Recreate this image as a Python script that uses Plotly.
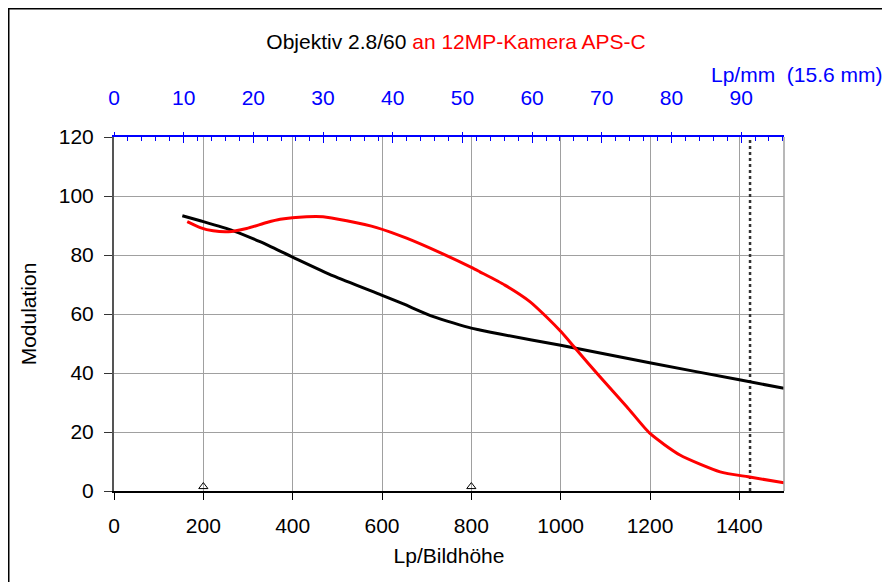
import plotly.graph_objects as go

# ---- data ----
lp_black = [153, 200, 267, 327, 401, 491, 599, 648, 715, 800, 819, 864, 1000, 1202, 1403, 1500]
mod_black = [93.3, 91.3, 88.2, 84.5, 79.2, 72.9, 66.4, 63.4, 59.1, 55.2, 54.6, 53.2, 49.4, 43.4, 37.6, 34.8]

lp_red = [164, 193, 222, 256, 297, 342, 372, 431, 468, 521, 588, 655, 730, 800, 819, 875,
          931, 969, 1002, 1036, 1088, 1148, 1200, 1267, 1357, 1420, 1500]
mod_red = [91.3, 89.3, 88.2, 87.9, 89.0, 91.0, 92.1, 93.0, 93.0, 91.6, 89.3, 85.7, 80.8, 75.8, 74.3, 69.8,
           64.2, 58.9, 53.8, 47.8, 38.7, 28.6, 19.5, 12.2, 6.5, 4.8, 2.8]

marker_x = [200, 800]
marker_y = [1.5, 1.5]

nyquist_x = [1424, 1424]
nyquist_y = [0, 120]

sensor_height_mm = 15.6
x_max = 1500

x_ticks = [0, 200, 400, 600, 800, 1000, 1200, 1400]
y_ticks = [0, 20, 40, 60, 80, 100, 120]
top_ticks = [0, 10, 20, 30, 40, 50, 60, 70, 80, 90]

FONT = "Liberation Sans, Arial, sans-serif"
FS = 21

# page offset (browser body margin)
OFF = 8
PL, PR, PT, PB = 114, 784, 137, 491  # plot area on screen
PW, PH = PR - PL, PB - PT


def px(xs):
    return (xs - PL) / PW


def py(ys):
    return (PB - ys) / PH


fig = go.Figure()

fig.add_trace(go.Scatter(x=nyquist_x, y=nyquist_y, mode="lines",
                         line=dict(color="#333333", width=2.5, dash="dot"),
                         hoverinfo="skip", showlegend=False))
fig.add_trace(go.Scatter(x=lp_black, y=mod_black, mode="lines",
                         line=dict(color="black", width=3, shape="spline", smoothing=0.6),
                         showlegend=False))
fig.add_trace(go.Scatter(x=lp_red, y=mod_red, mode="lines",
                         line=dict(color="#ff0000", width=3, shape="spline", smoothing=0.6),
                         showlegend=False))
fig.add_trace(go.Scatter(x=marker_x, y=marker_y, mode="markers",
                         marker=dict(symbol="triangle-up-open", size=8, color="black",
                                     line=dict(width=1, color="black")),
                         showlegend=False, cliponaxis=False))
# invisible traces on top axes (Lp/mm)
lpmm = [v / sensor_height_mm for v in lp_black]
fig.add_trace(go.Scatter(x=lpmm, y=mod_black, mode="lines",
                         line=dict(color="rgba(0,0,0,0)"), xaxis="x2", hoverinfo="skip",
                         showlegend=False))
fig.add_trace(go.Scatter(x=lpmm, y=mod_black, mode="lines",
                         line=dict(color="rgba(0,0,0,0)"), xaxis="x3", hoverinfo="skip",
                         showlegend=False))

fig.update_layout(
    width=890, height=582,
    margin=dict(l=PL - OFF, r=890 - PR + OFF, t=PT - OFF, b=582 - PB + OFF),
    paper_bgcolor="white", plot_bgcolor="white",
    font=dict(family=FONT, size=FS, color="black"),
    title=dict(
        text='Objektiv 2.8/60 <span style="color:#ff0000">an 12MP-Kamera APS-C</span>',
        x=(456 - OFF) / 890, xanchor="center", y=1 - (42 - OFF) / 582, yanchor="middle",
        yref="container",
        font=dict(family=FONT, size=FS, color="black"),
    ),
    xaxis=dict(
        range=[0, x_max], tickvals=x_ticks, ticktext=[str(v) for v in x_ticks],
        showgrid=True, gridcolor="#a0a0a0", gridwidth=1,
        showline=True, linecolor="black", linewidth=1.5,
        ticks="outside", ticklen=7, tickcolor="black", tickwidth=1,
        ticklabelstandoff=8,
        zeroline=False,
        title=dict(text="Lp/Bildhöhe", standoff=12, font=dict(size=FS)),
    ),
    xaxis2=dict(
        overlaying="x", side="top", range=[0, x_max / sensor_height_mm],
        tickvals=top_ticks, ticktext=[str(v) for v in top_ticks],
        showgrid=False, showline=True, linecolor="#0000ff", linewidth=1.5,
        ticks="inside", ticklen=6, tickcolor="#0000ff", tickwidth=1,
        minor=dict(dtick=2, ticks="inside", ticklen=4, tickcolor="#0000ff", showgrid=False),
        tickfont=dict(color="#0000ff", size=FS),
        ticklabelstandoff=22,
        zeroline=False,
    ),
    xaxis3=dict(
        overlaying="x", side="top", range=[0, x_max / sensor_height_mm],
        tickvals=top_ticks, showticklabels=False,
        showgrid=False, showline=False,
        ticks="outside", ticklen=4, tickcolor="#0000ff", tickwidth=1,
        zeroline=False,
    ),
    yaxis=dict(
        range=[0, 120], tickvals=y_ticks, ticktext=[str(v) for v in y_ticks],
        showgrid=True, gridcolor="#a0a0a0", gridwidth=1,
        showline=True, linecolor="#555555", linewidth=2,
        ticks="outside", ticklen=8, tickcolor="#333333", tickwidth=1,
        ticklabelstandoff=6,
        zeroline=False,
        title=dict(text="Modulation", standoff=16, font=dict(size=FS)),
    ),
    shapes=[
        dict(type="line", xref="paper", yref="paper", x0=1, x1=1, y0=0, y1=1,
             line=dict(color="#a0a0a0", width=1.5)),
        dict(type="rect", xref="paper", yref="paper",
             x0=px(8.75), x1=px(905), y0=py(600), y1=py(8.75),
             line=dict(color="black", width=1.5), fillcolor="rgba(0,0,0,0)", layer="below"),
    ],
    annotations=[
        dict(text="Lp/mm  (15.6 mm)", xref="paper", yref="paper",
             x=px(885), xanchor="right", y=py(75), yanchor="middle",
             showarrow=False, font=dict(family=FONT, size=FS, color="#0000ff")),
    ],
)

fig.write_html("out.html")
